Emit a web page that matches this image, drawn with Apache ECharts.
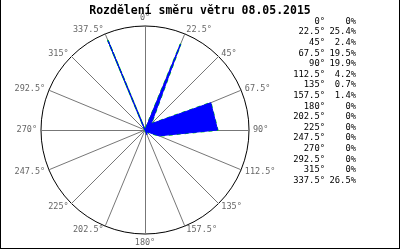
<!DOCTYPE html>
<html><head><meta charset="utf-8">
<script src="https://cdn.jsdelivr.net/npm/echarts@6/dist/echarts.min.js"></script>
<style>
html,body{margin:0;padding:0;background:#fff}
#c{position:absolute;left:0;top:0;width:400px;height:250px}
#f{position:absolute;left:0;top:0;width:400px;height:249px;border:1px solid #000;border-top:none;box-sizing:border-box;pointer-events:none}
</style></head><body><div id="c"></div><div id="f"></div>
<script>
const chartTitle = 'Rozdělení směru větru 08.05.2015';
const directions = [0, 22.5, 45, 67.5, 90, 112.5, 135, 157.5, 180, 202.5, 225, 247.5, 270, 292.5, 315, 337.5];
const shares = [0, 25.4, 2.4, 19.5, 19.9, 4.2, 0.7, 1.4, 0, 0, 0, 0, 0, 0, 0, 26.5];
const radialMax = 28.5;

const n = directions.length;
// radar goes counter-clockwise; reorder so directions run clockwise from the top
const order = directions.map((d, i) => (n - i) % n);
const indicators = order.map(k => ({ name: directions[k] + '°', min: 0, max: radialMax }));
const values = order.map(k => shares[k]);

const mono = '"DejaVu Sans Mono", "Liberation Mono", monospace';
const legendTexts = [];
directions.forEach((d, i) => {
  const y = 21.5 + i * 10.6;
  legendTexts.push({
    type: 'text', silent: true,
    style: { text: d + '°', x: 325, y: y, align: 'right', textAlign: 'right', verticalAlign: 'middle', textVerticalAlign: 'middle', font: '8.8px ' + mono, fill: '#000' }
  });
  legendTexts.push({
    type: 'text', silent: true,
    style: { text: shares[i] + '%', x: 356, y: y, align: 'right', textAlign: 'right', verticalAlign: 'middle', textVerticalAlign: 'middle', font: '8.8px ' + mono, fill: '#000' }
  });
});

const chart = echarts.init(document.getElementById('c'), null, { renderer: 'canvas' });
chart.setOption({
  animation: false,
  backgroundColor: '#fff',
  title: {
    text: chartTitle, left: 'center', top: 0,
    textStyle: { fontFamily: mono, fontSize: 11.5, fontWeight: 'bold', color: '#000' }
  },
  radar: {
    center: [145, 130], radius: 104, shape: 'circle', splitNumber: 1, startAngle: 90,
    indicator: indicators,
    nameGap: 4,
    axisName: { color: '#666', fontFamily: mono, fontSize: 8.5 },
    axisLine: { lineStyle: { color: '#777', width: 1 } },
    splitLine: { lineStyle: { color: '#000', width: 1 } },
    splitArea: { show: false },
    axisTick: { show: false },
    axisLabel: { show: false }
  },
  graphic: legendTexts,
  series: [
    {
      type: 'radar', symbol: 'none', silent: true,
      lineStyle: { color: '#00dd00', width: 1.8, type: [4, 4] },
      data: [{ value: values }]
    },
    {
      type: 'radar', symbol: 'none', silent: true,
      lineStyle: { color: '#0000ff', width: 1 },
      areaStyle: { color: '#0000ff', opacity: 1 },
      data: [{ value: values }]
    }
  ]
});
</script></body></html>
